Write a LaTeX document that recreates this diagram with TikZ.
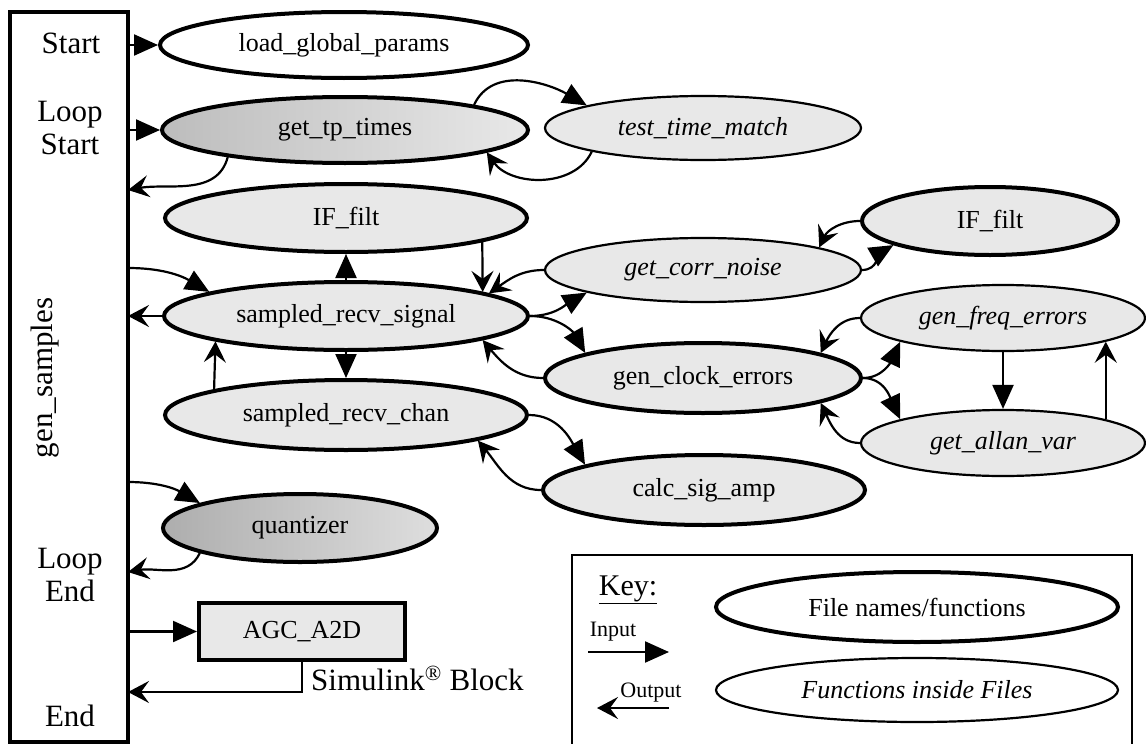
\documentclass[tikz,border=0pt]{standalone}
\usepackage{fontspec}
\setmainfont{Liberation Serif}
\usetikzlibrary{arrows.meta,shapes.geometric}
\tikzset{
  fn/.style={ellipse, draw, line width=4pt, inner sep=0pt, font=\fontsize{26}{30}\selectfont},
  sub/.style={ellipse, draw, line width=2.2pt, inner sep=0pt, font=\fontsize{26}{30}\selectfont\itshape},
  lite/.style={fill=black!9},
  inarr/.style={line width=2.2pt, -{Triangle[length=24pt,width=21pt]}},
  outarr/.style={line width=2.2pt, -{Stealth[length=21pt,width=22pt,inset=8pt]}},
  lbl/.style={font=\fontsize{31}{35}\selectfont, align=center, inner sep=0pt},
}
\begin{document}
\begin{tikzpicture}[x=1pt,y=1pt]
\useasboundingbox (0,0) rectangle (1146,-744);

% main box
\node[draw, line width=3.5pt, minimum width=118pt, minimum height=730pt, inner sep=0pt] (gs) at (69,-377) {};
\node[lbl] (tstart) at (71,-43) {Start};
\node[lbl] (tloops) at (70,-128) {Loop\\[-2pt]Start};
\node[lbl, rotate=90] (tgen) at (45,-378) {gen\_samples};
\node[lbl] (tloope) at (70,-575) {Loop\\[-2pt]End};
\node[lbl] (tend) at (70,-716) {End};

\coordinate (p1) at (128,-45);
\coordinate (p2) at (128,-130);
\coordinate (p3) at (128,-190);
\coordinate (p4) at (128,-268);
\coordinate (p5) at (128,-316);
\coordinate (p6) at (128,-482);
\coordinate (p7) at (128,-572);
\coordinate (p8) at (128,-631.5);
\coordinate (p9) at (128,-692);

% function nodes
\node[fn, minimum width=368pt, minimum height=66pt] (load) at (344,-45) {load\_global\_params};
\node[fn, minimum width=366pt, minimum height=66pt, left color=black!26, right color=black!9] (gtp) at (345,-130) {get\_tp\_times};
\node[sub, lite, minimum width=316pt, minimum height=64pt] (ttm) at (703,-128) {test\_time\_match};
\node[fn, lite, minimum width=362pt, minimum height=68pt] (if1) at (346,-218) {IF\_filt};
\node[fn, lite, minimum width=364pt, minimum height=68pt] (sig) at (346,-316) {sampled\_recv\_signal};
\node[fn, lite, minimum width=362pt, minimum height=70pt] (chan) at (346,-415) {sampled\_recv\_chan};
\node[fn, minimum width=274pt, minimum height=68pt, left color=black!32, right color=black!13] (quant) at (300,-528) {quantizer};
\node[draw, lite, line width=4pt, minimum width=206pt, minimum height=57pt, inner sep=0pt, font=\fontsize{26}{30}\selectfont] (agc) at (302,-631.5) {AGC\_A2D};
\node[sub, lite, minimum width=316pt, minimum height=64pt] (corr) at (703,-270) {get\_corr\_noise};
\node[fn, lite, minimum width=256pt, minimum height=68pt] (if2) at (990,-221) {IF\_filt};
\node[fn, lite, minimum width=316pt, minimum height=70pt] (clock) at (703,-378) {gen\_clock\_errors};
\node[sub, lite, minimum width=284pt, minimum height=66pt] (freq) at (1003,-318) {gen\_freq\_errors};
\node[sub, lite, minimum width=284pt, minimum height=66pt] (allan) at (1003,-443) {get\_allan\_var};
\node[fn, lite, minimum width=322pt, minimum height=70pt] (calc) at (704,-490) {calc\_sig\_amp};

\node[anchor=base west, inner sep=0pt, font=\fontsize{31}{35}\selectfont] (simu) at (311,-690) {Simulink\textsuperscript{®} Block};

% connectors
\draw[inarr] (p1) -- (load.west);
\draw[inarr] (p2) -- (gtp.west);
\draw[outarr] (gtp.-167) to[out=-105,in=10] (p3);
\draw[inarr] (gtp.11) to[out=65,in=150] (ttm.169);
\draw[outarr] (ttm.192) to[out=-115,in=-55] (gtp.-9);

\draw[inarr] (p4) to[out=0,in=150] (sig.170);
\draw[outarr] (sig.west) -- (p5);
\draw[inarr] (sig.north) -- (if1.south);
\draw[outarr] (if1.-10.5) -- (sig.10.5);
\draw[outarr] (corr.west) to[out=180,in=35] (sig.9);
\draw[inarr] (sig.east) to[out=0,in=-150] (corr.191);
\draw[inarr] (sig.east) to[out=0,in=120] (clock.168);
\draw[outarr] (clock.west) to[out=180,in=-50] (sig.-10);
\draw[inarr] (sig.south) -- (chan.north);
\draw[outarr] (chan.169) -- (sig.191);
\draw[inarr] (chan.east) to[out=0,in=120] (calc.168);
\draw[outarr] (calc.west) to[out=180,in=-50] (chan.-11);

\draw[inarr] (corr.east) to[out=0,in=-150] (if2.194);
\draw[outarr] (if2.west) to[out=180,in=65] (corr.11);
\draw[outarr] (freq.west) to[out=180,in=65] (clock.12);
\draw[inarr] (clock.east) to[out=0,in=-115] (freq.193);
\draw[inarr] (clock.east) to[out=0,in=115] (allan.167);
\draw[outarr] (allan.west) to[out=180,in=-65] (clock.-12);
\draw[inarr] (freq.south) -- (allan.north);
\draw[outarr] (allan.13) -- (freq.-13);

\draw[inarr] (p6) to[out=0,in=150] (quant.166);
\draw[outarr] (quant.194) to[out=-115,in=10] (p7);
\draw[inarr] (p8) -- (agc.west);
\draw[outarr] (agc.south) |- (p9);

% key
\node[draw, line width=2.5pt, minimum width=560pt, minimum height=190pt, inner sep=0pt] (key) at (852,-650) {};
\node[inner sep=0pt, font=\fontsize{30}{34}\selectfont] (keyt) at (628,-590) {\underline{Key:}};
\node[fn, minimum width=402pt, minimum height=70pt] (kfn) at (917,-607) {File names/functions};
\node[sub, minimum width=402pt, minimum height=64pt] (ksub) at (917,-690) {Functions inside Files};
\node[inner sep=0pt, font=\fontsize{22}{26}\selectfont] (kin) at (613,-632) {Input};
\node[inner sep=0pt, font=\fontsize{22}{26}\selectfont] (kout) at (651,-693) {Output};
\coordinate (ia1) at (588,-652);
\coordinate (ia2) at (669,-652);
\coordinate (oa1) at (669,-708);
\coordinate (oa2) at (597,-708);
\draw[inarr] (ia1) -- (ia2);
\draw[outarr] (oa1) -- (oa2);
\end{tikzpicture}
\end{document}
